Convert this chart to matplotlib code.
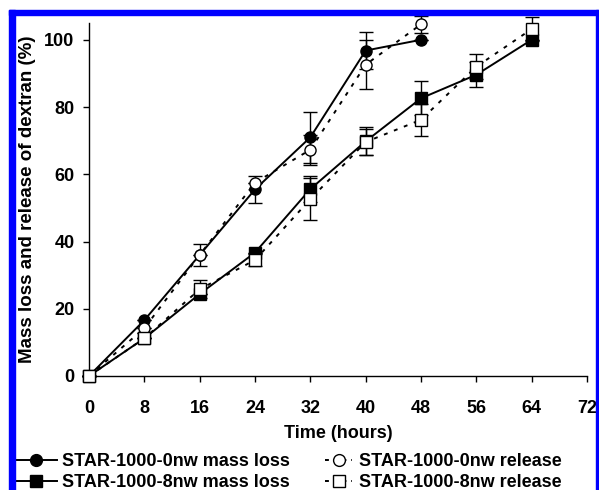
import numpy as np
import matplotlib.pyplot as plt
from matplotlib.lines import Line2D
from matplotlib.patches import Rectangle

plt.rcParams['font.family'] = ['Liberation Sans', 'DejaVu Sans']
plt.rcParams['font.weight'] = 'bold'

# ---- data ----
t_0nw = [0, 8, 16, 24, 32, 40, 48]
mass_0nw = [0, 16.6, 36.0, 55.5, 71.0, 96.8, 100.0]
mass_0nw_err = [0, 0, 0, 4.0, 7.6, 5.4, 0]
rel_0nw = [0, 14.2, 36.0, 57.5, 67.3, 92.6, 104.6]
rel_0nw_err = [0, 0, 3.4, 0, 4.5, 7.3, 2.5]

t_8nw = [0, 8, 16, 24, 32, 40, 48, 56, 64]
mass_8nw = [0, 11.2, 24.4, 36.7, 55.6, 69.8, 82.6, 89.6, 100.0]
mass_8nw_err = [0, 0, 0, 0, 3.8, 4.2, 5.0, 3.7, 0]
rel_8nw = [0, 11.2, 25.8, 34.5, 52.6, 69.6, 76.2, 92.0, 103.2]
rel_8nw_err = [0, 0, 2.6, 1.8, 6.2, 4.0, 4.7, 3.7, 3.5]

labels = ['STAR-1000-0nw mass loss', 'STAR-1000-0nw release',
          'STAR-1000-8nw mass loss', 'STAR-1000-8nw release']

FS = 13

fig = plt.figure(figsize=(5.99, 4.90), dpi=100)
ax = fig.add_axes([0.1486, 0.2327, 0.8314, 0.7204])

dots = (0, (2.0, 3.5))
common = dict(color='black', ecolor='black', elinewidth=1, capsize=5,
              markersize=8, clip_on=False, markeredgewidth=1.0)

ax.errorbar(t_0nw, mass_0nw, yerr=mass_0nw_err, fmt='-o', lw=1.4,
            markerfacecolor='black', zorder=3, **common)
ax.errorbar(t_8nw, mass_8nw, yerr=mass_8nw_err, fmt='-s', lw=1.4,
            markerfacecolor='black', zorder=3, **common)
ax.errorbar(t_0nw, rel_0nw, yerr=rel_0nw_err, fmt='o', linestyle=dots, lw=1.4,
            markerfacecolor='white', zorder=4, **common)
ax.errorbar(t_8nw, rel_8nw, yerr=rel_8nw_err, fmt='s', linestyle=dots, lw=1.4,
            markerfacecolor='white', zorder=4, **common)

ax.set_xlim(0, 72)
ax.set_ylim(0, 105)
ax.set_xticks(np.arange(0, 73, 8))
ax.set_yticks(np.arange(0, 101, 20))
ax.spines['top'].set_visible(False)
ax.spines['right'].set_visible(False)
for s in ['left', 'bottom']:
    ax.spines[s].set_linewidth(1.0)
ax.tick_params(axis='y', direction='out', length=4.5, width=1, labelsize=FS, pad=6)
ax.tick_params(axis='x', direction='out', length=4, width=1, labelsize=FS, pad=13)
for lbl in ax.get_xticklabels() + ax.get_yticklabels():
    lbl.set_fontweight('bold')
ax.set_xlabel('Time (hours)', fontsize=FS, fontweight='bold', labelpad=6)
ax.set_ylabel('Mass loss and release of dextran (%)', fontsize=13.5,
              fontweight='bold', labelpad=6)

# legend proxies (no error bars in the key)
mk = dict(color='black', lw=1.4, markersize=8.5, markeredgewidth=1.0)
p1 = Line2D([], [], marker='o', markerfacecolor='black', **mk)
p3 = Line2D([], [], marker='s', markerfacecolor='black', **mk)
p2 = Line2D([], [], marker='o', markerfacecolor='white', linestyle=(0, (2.0, 2.5)), **mk)
p4 = Line2D([], [], marker='s', markerfacecolor='white', linestyle=(0, (2.0, 2.5)), **mk)

leg1 = fig.legend([p1, p3], [labels[0], labels[2]], loc='upper left',
                  bbox_to_anchor=(0.025, 0.075), frameon=False, handlelength=2.33,
                  handletextpad=0.3, labelspacing=0.2, borderpad=0, borderaxespad=0,
                  prop={'weight': 'bold', 'size': FS})
leg2 = fig.legend([p2, p4], [labels[1], labels[3]], loc='upper left',
                  bbox_to_anchor=(0.5426, 0.075), frameon=False, handlelength=1.5,
                  handletextpad=0.4, labelspacing=0.2, borderpad=0, borderaxespad=0,
                  prop={'weight': 'bold', 'size': FS})

# blue frame around the figure (top, left and right edges)
fig.patches.append(Rectangle((9 / 599, 0), 6 / 599, 480 / 490, transform=fig.transFigure,
                             color='blue', zorder=10))
fig.patches.append(Rectangle((9 / 599, 475 / 490), 590 / 599, 5 / 490,
                             transform=fig.transFigure, color='blue', zorder=10))
fig.patches.append(Rectangle((596 / 599, 0), 2 / 599, 480 / 490, transform=fig.transFigure,
                             color='blue', zorder=10))

fig.savefig('out.png', dpi=100)
